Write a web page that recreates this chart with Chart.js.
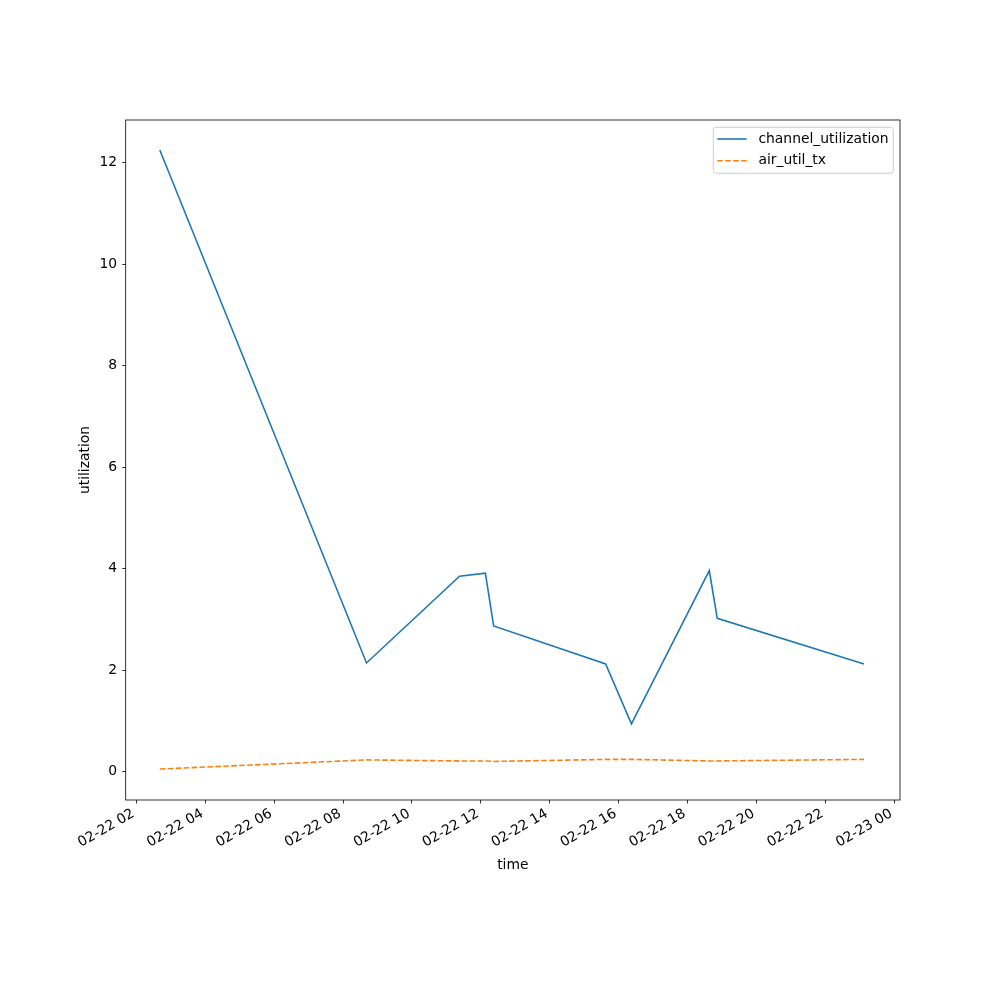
<!DOCTYPE html>
<html>
<head>
<meta charset="utf-8">
<script src="https://cdn.jsdelivr.net/npm/chart.js@4/dist/chart.umd.min.js"></script>
<style>
  body { margin: 0; background: #fff; }
  canvas { display: block; }
</style>
</head>
<body>
<canvas id="utilChart" width="1000" height="1000"></canvas>
<script>
// hours since 02-22 00:00
const times = [2.68, 8.68, 11.38, 12.13, 12.37, 15.62, 16.37, 18.63, 18.86, 23.12];
const channelUtilization = [12.25, 2.14, 3.85, 3.91, 2.87, 2.12, 0.94, 3.96, 3.02, 2.12];
const airUtilTx = [0.05, 0.23, 0.21, 0.21, 0.20, 0.24, 0.24, 0.21, 0.21, 0.24];
const xTicks = [2, 4, 6, 8, 10, 12, 14, 16, 18, 20, 22, 24];
const yTicks = [0, 2, 4, 6, 8, 10, 12];

const FONT = 'DejaVu Sans';
const FS = 13.9;

function toPoints(vals) {
    return times.map((t, i) => ({ x: t, y: vals[i] }));
}

function timeLabel(h) {
    const day = 22 + Math.floor(h / 24);
    const hh = h % 24;
    return '02-' + day + ' ' + String(hh).padStart(2, '0');
}

// frame around the axes + legend box like matplotlib
const framePlugin = {
    id: 'frame',
    afterDraw(chart) {
        const c = chart.ctx;
        const a = chart.chartArea;
        c.save();
        c.strokeStyle = '#000';
        c.lineWidth = 0.8;
        c.strokeRect(a.left, a.top, a.right - a.left, a.bottom - a.top);

        // legend
        const bx = 713.3, by = 127.3, bw = 180, bh = 46, r = 2.8;
        c.beginPath();
        c.moveTo(bx + r, by);
        c.arcTo(bx + bw, by, bx + bw, by + bh, r);
        c.arcTo(bx + bw, by + bh, bx, by + bh, r);
        c.arcTo(bx, by + bh, bx, by, r);
        c.arcTo(bx, by, bx + bw, by, r);
        c.closePath();
        c.fillStyle = 'rgba(255,255,255,0.8)';
        c.fill();
        c.strokeStyle = '#cccccc';
        c.lineWidth = 1;
        c.stroke();

        c.font = FS + 'px "' + FONT + '"';
        c.textBaseline = 'middle';
        c.textAlign = 'left';
        chart.data.datasets.forEach((ds, i) => {
            const yy = 139 + i * 21.7;
            c.beginPath();
            c.setLineDash(ds.borderDash || []);
            c.strokeStyle = ds.borderColor;
            c.lineWidth = ds.borderWidth;
            c.moveTo(717.3, yy);
            c.lineTo(746.7, yy);
            c.stroke();
            c.setLineDash([]);
            c.fillStyle = '#000';
            c.fillText(ds.label, 758.4, yy);
        });
        c.restore();
    }
};

const ctx = document.getElementById('utilChart').getContext('2d');
const utilChart = new Chart(ctx, {
    type: 'line',
    data: {
        datasets: [{
            label: 'channel_utilization',
            data: toPoints(channelUtilization),
            borderColor: '#1f77b4',
            borderWidth: 1.6,
            pointRadius: 0,
            tension: 0,
            fill: false
        }, {
            label: 'air_util_tx',
            data: toPoints(airUtilTx),
            borderColor: '#ff7f0e',
            borderWidth: 1.6,
            borderDash: [5.55, 2.4],
            pointRadius: 0,
            tension: 0,
            fill: false
        }]
    },
    options: {
        responsive: false,
        animation: false,
        layout: { padding: { left: 73, right: 100, top: 120, bottom: 122 } },
        plugins: {
            legend: { display: false },
            tooltip: { enabled: false }
        },
        scales: {
            x: {
                type: 'linear',
                min: 1.69,
                max: 24.165,
                afterBuildTicks: (scale) => { scale.ticks = xTicks.map(v => ({ value: v })); },
                afterFit: (scale) => { scale.height = 78; },
                grid: { drawOnChartArea: false, drawTicks: true, tickLength: 3.5, tickWidth: 0.8, color: '#000' },
                border: { display: false },
                ticks: {
                    autoSkip: false,
                    maxRotation: 30,
                    minRotation: 30,
                    padding: 2,
                    labelOffset: -3,
                    color: '#000',
                    font: { family: FONT, size: FS },
                    callback: (v) => timeLabel(v)
                },
                title: { display: true, text: 'time', color: '#000', padding: 4, font: { family: FONT, size: FS } }
            },
            y: {
                type: 'linear',
                min: -0.56,
                max: 12.84,
                afterBuildTicks: (scale) => { scale.ticks = yTicks.map(v => ({ value: v })); },
                afterFit: (scale) => { scale.width = 52.7; },
                grid: { drawOnChartArea: false, drawTicks: true, tickLength: 3.5, tickWidth: 0.8, color: '#000' },
                border: { display: false },
                ticks: {
                    padding: 5,
                    color: '#000',
                    font: { family: FONT, size: FS }
                },
                title: { display: true, text: 'utilization', color: '#000', padding: 4, font: { family: FONT, size: FS } }
            }
        }
    },
    plugins: [framePlugin]
});
</script>
</body>
</html>
